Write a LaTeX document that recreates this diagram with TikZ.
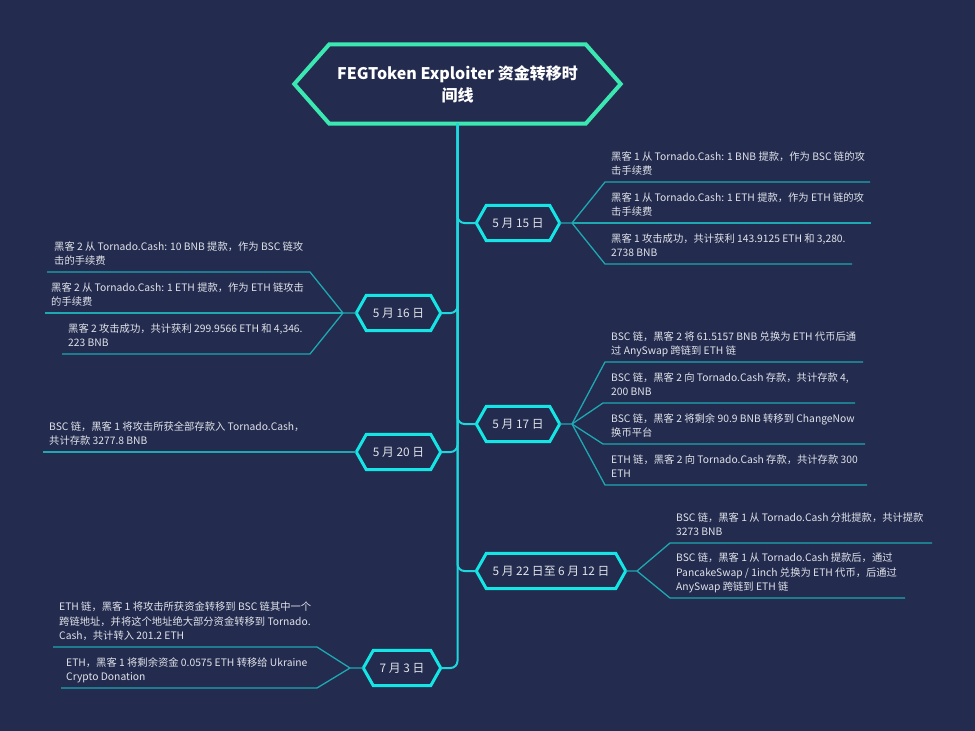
\documentclass[tikz,border=0pt]{standalone}
\usepackage{fontspec}
\setmainfont{Noto Sans CJK SC}
\usetikzlibrary{calc}
\definecolor{bg}{RGB}{35,43,78}
\definecolor{trunkc}{RGB}{30,215,220}
\definecolor{branchc}{RGB}{30,168,178}
\definecolor{datec}{RGB}{20,230,230}
\definecolor{titlec}{RGB}{60,232,178}
\definecolor{txt}{RGB}{225,228,235}
\tikzset{
  datebox/.style={minimum width=#1, minimum height=35pt, inner sep=0pt, text=txt, font=\fontsize{11.8}{14}\selectfont},
  leaf/.style={anchor=south west, inner sep=0pt, text depth=2pt, align=left, text=txt, font=\fontsize{10.3}{14.5}\selectfont},
  branch/.style={draw=branchc, line width=1.3pt},
  trunk/.style={draw=trunkc, line width=2pt, rounded corners=7pt},
  datehex/.style={draw=datec, line width=3pt, line join=miter},
  titlehex/.style={draw=titlec, line width=4pt, line join=miter},
}
\newcommand\hexframe[3]{%
  \path[#3] (#1.west) -- ($(#1.north west)+(#2,0)$) -- ($(#1.north east)+(-#2,0)$) -- (#1.east) -- ($(#1.south east)+(-#2,0)$) -- ($(#1.south west)+(#2,0)$) -- cycle;}
\begin{document}
\begin{tikzpicture}[x=1pt,y=-1pt]
\fill[bg] (0,0) rectangle (975,731);
\useasboundingbox (0,0) rectangle (975,731);

% title
\node[minimum width=326pt, minimum height=79pt, inner sep=0pt, align=center, text=white,
      font=\fontsize{16}{22}\selectfont\bfseries] (title) at (457.5,84) {FEGToken Exploiter 资金转移时\\间线};
\hexframe{title}{35}{titlehex}

% date nodes
\node[datebox=83pt] (d1) at (518,223) {5 月 15 日};
\node[datebox=84pt] (d2) at (398.5,313) {5 月 16 日};
\node[datebox=83pt] (d3) at (518,424) {5 月 17 日};
\node[datebox=84pt] (d4) at (398.5,452) {5 月 20 日};
\node[datebox=149pt] (d5) at (551,571) {5 月 22 日至 6 月 12 日};
\node[datebox=77pt] (d6) at (402,668) {7 月 3 日};
\foreach \n in {d1,d2,d3,d4,d5,d6} {\hexframe{\n}{10}{datehex}}

% trunk
\draw[trunk] (title.south) |- (d1.west);
\draw[trunk] (title.south) |- (d2.east);
\draw[trunk] (title.south) |- (d3.west);
\draw[trunk] (title.south) |- (d4.east);
\draw[trunk] (title.south) |- (d5.west);
\draw[trunk] (title.south) |- (d6.east);

% ---- 5月15日
\coordinate (f1) at (572,223);
\coordinate (a1s) at (605,182); \coordinate (a1e) at (870,182);
\coordinate (a2e) at (871,223);
\coordinate (a3s) at (605,264); \coordinate (a3e) at (852,264);
\draw[branch] (d1.east) -- (f1) -- (a1s) -- (a1e);
\draw[branch] (f1) -- (a2e);
\draw[branch] (f1) -- (a3s) -- (a3e);
\node[leaf] (t11) at (611,177) {黑客 1 从 Tornado.Cash: 1 BNB 提款，作为 BSC 链的攻\\击手续费};
\node[leaf] (t12) at (611,218) {黑客 1 从 Tornado.Cash: 1 ETH 提款，作为 ETH 链的攻\\击手续费};
\node[leaf] (t13) at (611,259) {黑客 1 攻击成功，共计获利 143.9125 ETH 和 3,280.\\2738 BNB};

% ---- 5月16日
\coordinate (f2) at (343,313);
\coordinate (b1s) at (310,272); \coordinate (b1e) at (47,272);
\coordinate (b2e) at (45,313);
\coordinate (b3s) at (310,354); \coordinate (b3e) at (62,354);
\draw[branch] (d2.west) -- (f2) -- (b1s) -- (b1e);
\draw[branch] (f2) -- (b2e);
\draw[branch] (f2) -- (b3s) -- (b3e);
\node[leaf] (t21) at (54,267) {黑客 2 从 Tornado.Cash: 10 BNB 提款，作为 BSC 链攻\\击的手续费};
\node[leaf] (t22) at (51,308) {黑客 2 从 Tornado.Cash: 1 ETH 提款，作为 ETH 链攻击\\的手续费};
\node[leaf] (t23) at (68,349) {黑客 2 攻击成功，共计获利 299.9566 ETH 和 4,346.\\223 BNB};

% ---- 5月17日
\coordinate (f3) at (572,424);
\coordinate (c1s) at (605,362); \coordinate (c1e) at (863,362);
\coordinate (c2s) at (603,403); \coordinate (c2e) at (855,403);
\coordinate (c3s) at (603,444); \coordinate (c3e) at (865,444);
\coordinate (c4s) at (605,485); \coordinate (c4e) at (867,485);
\draw[branch] (d3.east) -- (f3) -- (c1s) -- (c1e);
\draw[branch] (f3) -- (c2s) -- (c2e);
\draw[branch] (f3) -- (c3s) -- (c3e);
\draw[branch] (f3) -- (c4s) -- (c4e);
\node[leaf] (t31) at (611,357) {BSC 链，黑客 2 将 61.5157 BNB 兑换为 ETH 代币后通\\过 AnySwap 跨链到 ETH 链};
\node[leaf] (t32) at (611,398) {BSC 链，黑客 2 向 Tornado.Cash 存款，共计存款 4,\\200 BNB};
\node[leaf] (t33) at (611,439) {BSC 链，黑客 2 将剩余 90.9 BNB 转移到 ChangeNow\\换币平台};
\node[leaf] (t34) at (611,480) {ETH 链，黑客 2 向 Tornado.Cash 存款，共计存款 300\\ETH};

% ---- 5月20日
\coordinate (e1e) at (43,452);
\draw[branch] (d4.west) -- (e1e);
\node[leaf] (t41) at (49,447) {BSC 链，黑客 1 将攻击所获全部存款入 Tornado.Cash，\\共计存款 3277.8 BNB};

% ---- 5月22日至6月12日
\coordinate (f5) at (637,571);
\coordinate (g1s) at (670,543); \coordinate (g1e) at (932,543);
\coordinate (g2s) at (670,598); \coordinate (g2e) at (905,598);
\draw[branch] (d5.east) -- (f5) -- (g1s) -- (g1e);
\draw[branch] (f5) -- (g2s) -- (g2e);
\node[leaf] (t51) at (676,538) {BSC 链，黑客 1 从 Tornado.Cash 分批提款，共计提款\\3273 BNB};
\node[leaf] (t52) at (676,593) {BSC 链，黑客 1 从 Tornado.Cash 提款后，通过\\PancakeSwap / 1inch 兑换为 ETH 代币，后通过\\AnySwap 跨链到 ETH 链};

% ---- 7月3日
\coordinate (f6) at (350,668);
\coordinate (h1s) at (317,647); \coordinate (h1e) at (53,647);
\coordinate (h2s) at (317,688); \coordinate (h2e) at (61,688);
\draw[branch] (d6.west) -- (f6) -- (h1s) -- (h1e);
\draw[branch] (f6) -- (h2s) -- (h2e);
\node[leaf] (t61) at (59,642) {ETH 链，黑客 1 将攻击所获资金转移到 BSC 链其中一个\\跨链地址，并将这个地址绝大部分资金转移到 Tornado.\\Cash，共计转入 201.2 ETH};
\node[leaf] (t62) at (66,683) {ETH，黑客 1 将剩余资金 0.0575 ETH 转移给 Ukraine\\Crypto Donation};
\end{tikzpicture}
\end{document}
